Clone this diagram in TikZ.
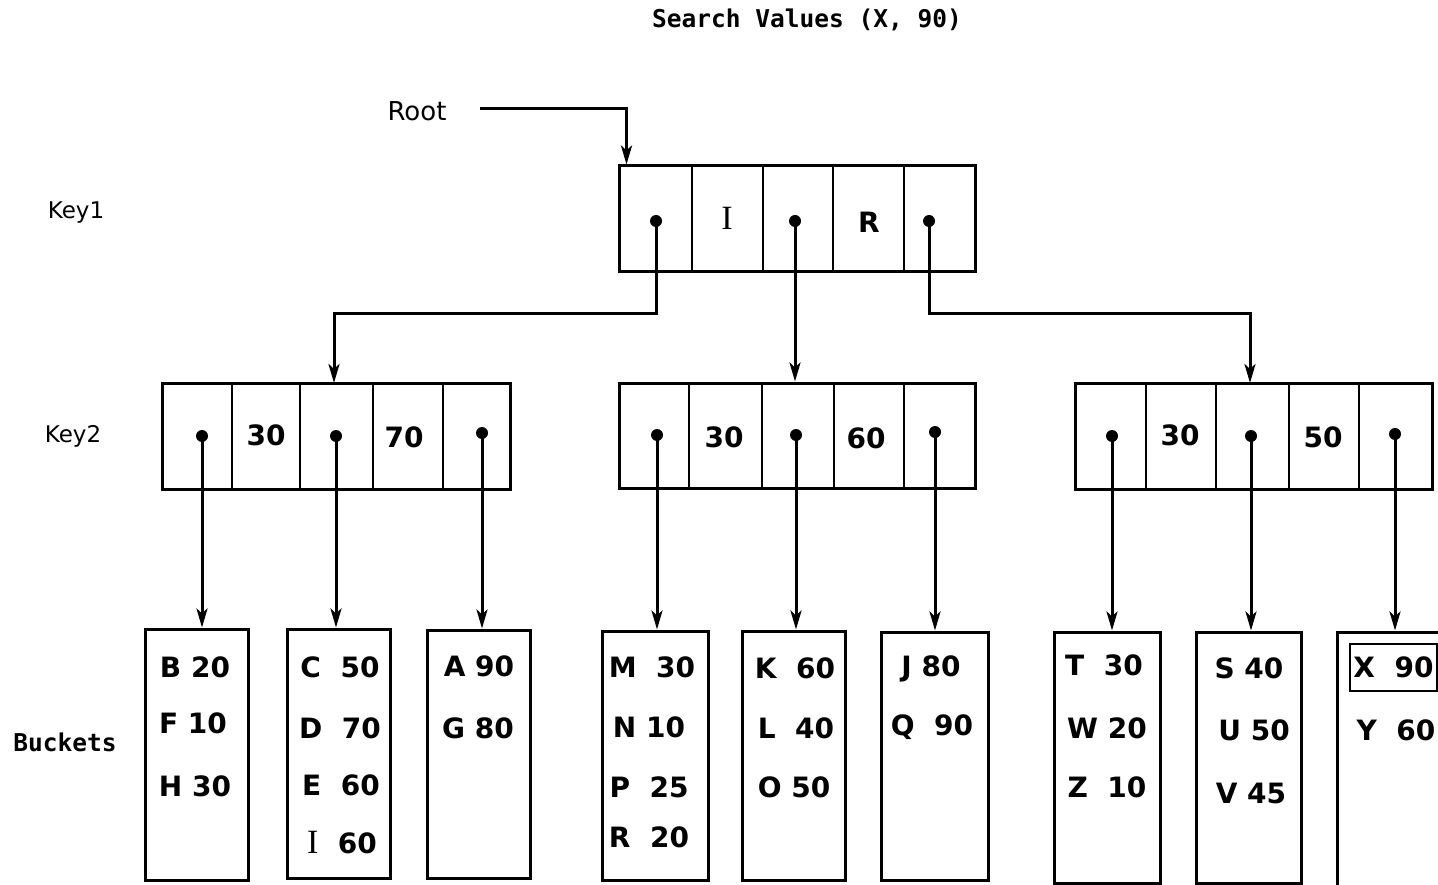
\documentclass[tikz,border=0pt]{standalone}
\usepackage{fontspec}
\setmainfont{DejaVu Sans}
\newfontfamily\monofont{DejaVu Sans Mono}
\newfontfamily\seriffont{Liberation Serif}
\usetikzlibrary{arrows.meta}
\begin{document}
\begin{tikzpicture}[x=1pt,y=-1pt,line width=3pt,
  cellbox/.style={draw,line width=3pt,inner sep=0pt},
  bucket/.style={draw,line width=3pt,inner sep=0pt},
  entry/.style={font=\fontsize{28}{28}\selectfont\bfseries,inner sep=0pt},
  lbl/.style={font=\fontsize{23}{23}\selectfont,inner sep=0pt},
  mono/.style={font=\monofont\bfseries\fontsize{24.5}{25}\selectfont,inner sep=0pt},
  ptr/.style={line width=3pt,-{Stealth[length=19pt,width=11pt,inset=5pt]}},
  dot/.style={circle,fill,inner sep=0pt,minimum size=12pt},
  divider/.style={line width=2.4pt}]
\clip (0,0) rectangle (1438,885);
\fill[white] (0,0) rectangle (1438,885);

% labels
\node[mono] (title) at (807,20) {Search Values (X, 90)};
\node[lbl,font=\fontsize{26}{26}\selectfont] (root) at (417,111) {Root};
\node[lbl] (key1) at (76,213) {Key1};
\node[lbl] (key2) at (73,436) {Key2};
\node[mono] (buckets) at (65,742) {Buckets};

% Key1 node
\node[cellbox,minimum width=356pt,minimum height=106pt] (k1) at (797,219) {};
\foreach \x in {692,763,833,904} \draw[divider] (\x,166) -- (\x,272);
\node[font=\seriffont\fontsize{34}{34}\selectfont,inner sep=0pt] (k1a) at (727,218) {I};
\node[entry] (k1b) at (869,222) {R};
\node[dot] (d11) at (656,221) {};
\node[dot] (d12) at (795,221) {};
\node[dot] (d13) at (929,221) {};

% Key2 nodes
\node[cellbox,minimum width=348pt,minimum height=106pt] (k2a) at (336,436) {};
\foreach \x in {232,300,373,443} \draw[divider] (\x,383) -- (\x,489);
\node[entry] (k2a1) at (266,435) {30};
\node[entry] (k2a2) at (404,437) {70};
\node[dot] (d21) at (202,436) {};
\node[dot] (d22) at (336,436) {};
\node[dot] (d23) at (482,433) {};

\node[cellbox,minimum width=356pt,minimum height=105pt] (k2b) at (797,435.5) {};
\foreach \x in {689,762,834,904} \draw[divider] (\x,383) -- (\x,488);
\node[entry] (k2b1) at (724,437) {30};
\node[entry] (k2b2) at (866,438) {60};
\node[dot] (d24) at (657,435) {};
\node[dot] (d25) at (796,435) {};
\node[dot] (d26) at (935,432) {};

\node[cellbox,minimum width=357pt,minimum height=106pt] (k2c) at (1253.5,436) {};
\foreach \x in {1146,1216,1289,1359} \draw[divider] (\x,383) -- (\x,489);
\node[entry] (k2c1) at (1180,435) {30};
\node[entry] (k2c2) at (1323,437) {50};
\node[dot] (d27) at (1112,436) {};
\node[dot] (d28) at (1251,436) {};
\node[dot] (d29) at (1395,434) {};

% Buckets
\node[bucket,minimum width=103pt,minimum height=251pt] (b1) at (196.5,754.5) {};
\node[bucket,minimum width=103pt,minimum height=249pt] (b2) at (338.5,753.5) {};
\node[bucket,minimum width=103pt,minimum height=248pt] (b3) at (478.5,754) {};
\node[bucket,minimum width=106pt,minimum height=249pt] (b4) at (655,755.5) {};
\node[bucket,minimum width=103pt,minimum height=249pt] (b5) at (793.5,755.5) {};
\node[bucket,minimum width=107pt,minimum height=248pt] (b6) at (934.5,756) {};
\node[bucket,minimum width=106pt,minimum height=251pt] (b7) at (1107,757.5) {};
\node[bucket,minimum width=105pt,minimum height=251pt] (b8) at (1248.5,757.5) {};
\node[bucket,minimum width=113pt,minimum height=268pt] (b9) at (1393.5,766) {};

% bucket entries
\node[entry] at (195,667) {B~20};
\node[entry] at (193,723) {F~10};
\node[entry] at (195,786) {H~30};
\node[entry] at (340,667) {C~~50};
\node[entry] at (340,728) {D~~70};
\node[entry] at (341,785) {E~~60};
\node[entry] at (342,843) {{\seriffont\mdseries\fontsize{34}{34}\selectfont I}~~60};
\node[entry] at (479,666) {A~90};
\node[entry] at (478,728) {G~80};
\node[entry] at (652,667) {M~~30};
\node[entry] at (649,727) {N~10};
\node[entry] at (649,787) {P~~25};
\node[entry] at (649,837) {R~~20};
\node[entry] at (795,668) {K~~60};
\node[entry] at (796,728) {L~~40};
\node[entry] at (794,787) {O~50};
\node[entry] at (931,669) {J~80};
\node[entry] at (932,727) {Q~~90};
\node[entry] at (1104,665) {T~~30};
\node[entry] at (1107,728) {W~20};
\node[entry] at (1107,787) {Z~~10};
\node[entry] at (1249,668) {S~40};
\node[entry] at (1254,730) {U~50};
\node[entry] at (1251,793) {V~45};
\node[entry,draw,line width=2.4pt,minimum width=87pt,minimum height=47pt] (xbox) at (1393.5,667.5) {X~~90};
\node[entry] at (1396,730) {Y~~60};

% connectors
\draw[ptr] ([xshift=32pt,yshift=2pt]root.east) -| ([xshift=9pt]k1.north west);
\draw[ptr] (d11.center) |- (334,314) -- (334,383);
\draw[ptr] (d12.center) -- (d12.center |- k2b.north);
\draw[ptr] (d13.center) |- (1250,314) -- (1250,383);

\draw[ptr] (d21.center) -- (d21.center |- b1.north);
\draw[ptr] (d22.center) -- (d22.center |- b2.north);
\draw[ptr] (d23.center) -- (d23.center |- b3.north);
\draw[ptr] (d24.center) -- (d24.center |- b4.north);
\draw[ptr] (d25.center) -- (d25.center |- b5.north);
\draw[ptr] (d26.center) -- (d26.center |- b6.north);
\draw[ptr] (d27.center) -- (d27.center |- b7.north);
\draw[ptr] (d28.center) -- (d28.center |- b8.north);
\draw[ptr] (d29.center) -- (d29.center |- b9.north);
\end{tikzpicture}
\end{document}
